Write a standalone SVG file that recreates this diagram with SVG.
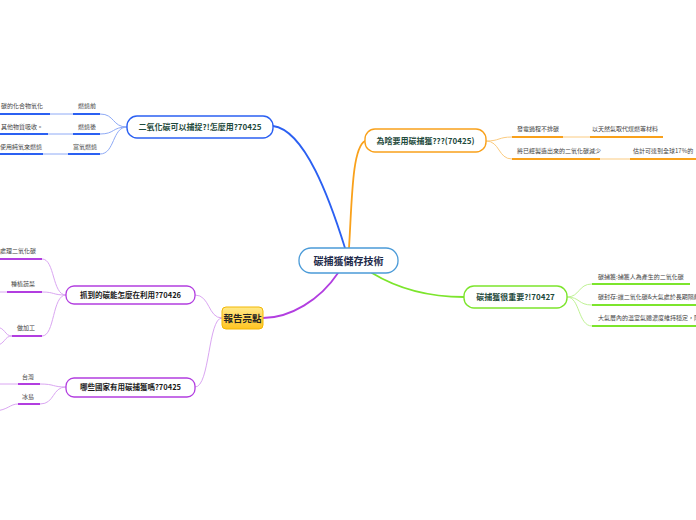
<svg xmlns="http://www.w3.org/2000/svg" width="696" height="520" viewBox="0 0 696 520">
<defs>
<linearGradient id="yg" x1="0" y1="0" x2="0" y2="1">
<stop offset="0" stop-color="#ffe98a"/>
<stop offset="1" stop-color="#ffc421"/>
</linearGradient>
<style>
text{font-family:"Noto Sans CJK TC","Noto Sans",sans-serif;}
.nt{font-size:8px;font-weight:bold;fill:#1e4a3c;text-anchor:middle;}
.pt{font-size:7.5px;font-weight:bold;fill:#1a1a1a;text-anchor:middle;}
.ct{font-size:6px;fill:#444;}
.e{text-anchor:end;}
.m{text-anchor:middle;}
.main{fill:none;stroke-width:1.8;stroke-linecap:round;}
.lt{fill:none;stroke-width:1;}
.ul{fill:none;stroke-width:2;}
.b{stroke:#2b60f2;}.bl{stroke:#8eaaf6;}
.o{stroke:#f9a11b;}.ol{stroke:#fbcb80;}
.g{stroke:#7ce52c;}.gl{stroke:#bff294;}
.p{stroke:#b23ee0;}.pl{stroke:#daa6f2;}
</style>
</defs>
<rect width="696" height="520" fill="#ffffff"/>
<g id="connectors">
<path class="main b" d="M345,248 C330,200 305,130 273,126"/>
<path class="main o" d="M349,248 C352,200 352,148 365,141"/>
<path class="main g" d="M372,273 C400,290 430,297 464,297"/>
<path class="main p" d="M338,273 C320,300 290,318 263,318"/>
<path class="lt bl" d="M127,127 C112,127 115,114 100,114 M127,127 C112,127 115,134 100,134 M127,127 C112,127 115,154 100,154"/>
<path class="lt bl" d="M73,114 L50,114 M73,134 L48,134 M68,154 L43,154"/>
<path class="ul b" d="M73,114 L100,114 M0,114 L50,114 M73,134 L100,134 M0,134 L48,134 M68,154 L100,154 M0,154 L43,154"/>
<path class="lt ol" d="M486,141 C500,141 498,137 512,137 M486,141 C500,141 498,159 512,159 M563,137 L590,137 M600,159 L630,159"/>
<path class="ul o" d="M512,137 L563,137 M590,137 L663,137 M512,159 L600,159 M630,159 L700,159"/>
<path class="lt gl" d="M567,297 C580,297 578,284 592,284 M567,297 C580,297 578,305 592,305 M567,297 C580,297 578,326 592,326"/>
<path class="ul g" d="M592,284 L690,284 M592,305 L700,305 M592,326 L700,326"/>
<path class="lt pl" d="M222,318 C208,318 210,295 195,295 M222,318 C208,318 210,387 195,387"/>
<path class="lt pl" d="M66,295 C52,295 55,259 42,259 M66,295 C52,295 55,292 42,292 M66,295 C52,295 55,336 42,336"/>
<path class="lt pl" d="M7,292 L-5,292 M12,336 C4,336 6,327 -5,327 M12,336 C4,336 6,344 -5,346"/>
<path class="lt pl" d="M66,387 C52,387 55,384 40,384 M66,387 C52,387 55,404 40,404 M18,384 L-5,384 M18,404 C10,404 8,410 -5,411"/>
<path class="ul p" d="M0,259 L42,259 M7,292 L42,292 M12,336 L42,336 M18,384 L40,384 M18,404 L40,404"/>
</g>
<g id="center">
<rect x="299" y="248" width="99" height="25" rx="12" fill="#fff" stroke="#4b9bd8" stroke-width="1.3"/>
<text x="348.5" y="264.5" font-size="10" font-weight="bold" fill="#1e2a4a" text-anchor="middle">碳捕獲儲存技術</text>
</g>
<g id="n-blue">
<rect x="127" y="116" width="146" height="22" rx="10" fill="#fff" stroke="#2b60f2" stroke-width="1.4"/>
<text class="nt" x="200" y="130">二氧化碳可以捕捉?!怎麼用?70425</text>
</g>
<g id="b1"><text class="ct m" x="87" y="108">燃燒前</text></g>
<g id="b2"><text class="ct m" x="87" y="129">燃燒後</text></g>
<g id="b3"><text class="ct e" x="97" y="149">富氧燃燒</text></g>
<g id="b1a"><text class="ct e" x="43" y="108">碳的化合物氧化</text></g>
<g id="b2a"><text class="ct e" x="43" y="129">其他物質吸收。</text></g>
<g id="b3a"><text class="ct e" x="42" y="149">使用純氧來燃燒</text></g>
<g id="n-orange">
<rect x="365" y="129" width="121" height="23" rx="10" fill="#fff" stroke="#f9a11b" stroke-width="1.4"/>
<text class="nt" x="425.5" y="144">為啥要用碳捕獲???(70425)</text>
</g>
<g id="o1"><text class="ct" x="517" y="131">發電過程不排碳</text></g>
<g id="o1a"><text class="ct" x="592" y="131">以天然氣取代煤燃等材料</text></g>
<g id="o2"><text class="ct" x="517" y="153">將已經製造出來的二氧化碳減少</text></g>
<g id="o2a"><text class="ct" x="633" y="153">估計可達到全球17%的</text></g>
<g id="n-green">
<rect x="464" y="286" width="103" height="22" rx="10" fill="#fff" stroke="#7ce52c" stroke-width="1.4"/>
<text class="nt" x="515.5" y="300">碳捕獲很重要?!70427</text>
</g>
<g id="g1"><text class="ct" x="598" y="279">碳捕獲:捕獲人為產生的二氧化碳</text></g>
<g id="g2"><text class="ct" x="598" y="299">碳封存:讓二氧化碳&amp;大氣處於長期隔離</text></g>
<g id="g3"><text class="ct" x="598" y="320">大氣層內的溫室氣體濃度維持穩定，降</text></g>
<g id="n-yellow">
<rect x="222" y="307" width="41" height="22" rx="4" fill="url(#yg)" stroke="#f2b705" stroke-width="1"/>
<text x="242.5" y="321.5" font-size="9.5" font-weight="bold" fill="#222" text-anchor="middle">報告亮點</text>
</g>
<g id="n-purple1">
<rect x="66" y="286" width="129" height="18" rx="8" fill="#fff" stroke="#b23ee0" stroke-width="1.3"/>
<text class="pt" x="130.5" y="298">抓到的碳能怎麼在利用?70426</text>
</g>
<g id="p1"><text class="ct e" x="36" y="253">處理二氧化碳</text></g>
<g id="p2"><text class="ct e" x="35" y="286">種植蔬菜</text></g>
<g id="p3"><text class="ct e" x="35" y="330">做加工</text></g>
<g id="n-purple2">
<rect x="66" y="378" width="129" height="19" rx="8" fill="#fff" stroke="#b23ee0" stroke-width="1.3"/>
<text class="pt" x="130.5" y="390">哪些國家有用碳捕獲嗎?70425</text>
</g>
<g id="q1"><text class="ct e" x="34" y="379">台灣</text></g>
<g id="q2"><text class="ct e" x="34" y="399">冰島</text></g>
</svg>
